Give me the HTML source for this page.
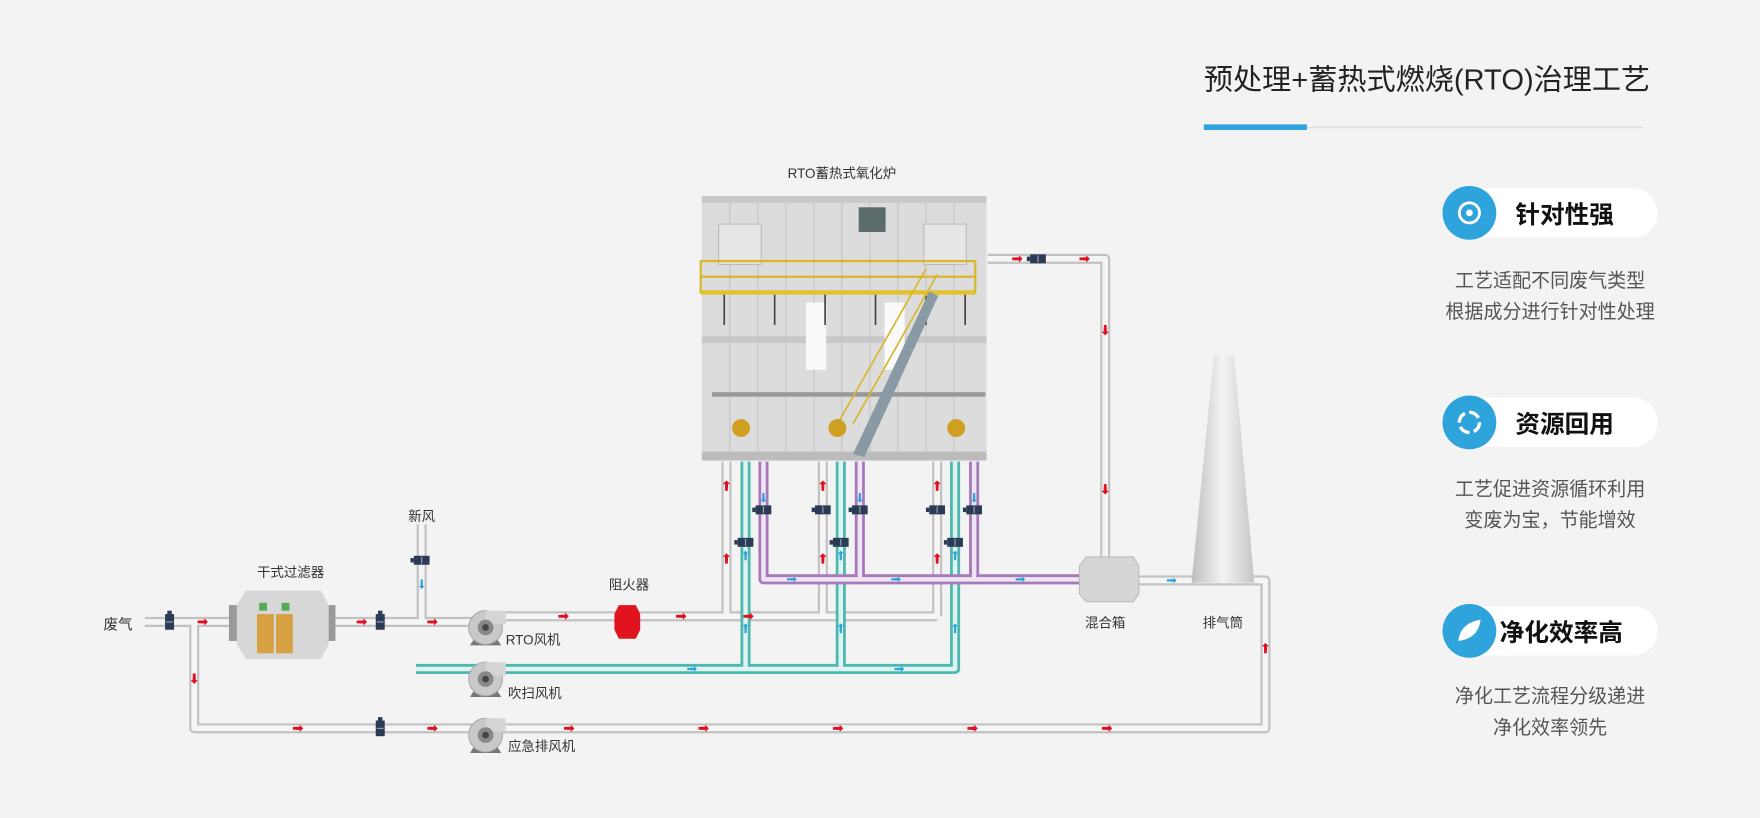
<!DOCTYPE html>
<html><head><meta charset="utf-8"><style>
html,body{margin:0;padding:0;background:#f3f3f3;}
svg{display:block;}
text{font-family:"Liberation Sans","Noto Sans CJK SC",sans-serif;}
</style></head><body>
<svg width="1760" height="818" viewBox="0 0 1568 730" xmlns="http://www.w3.org/2000/svg">
<defs>
<marker id="ar" viewBox="0 0 10 10" refX="5" refY="5" markerWidth="2.6" markerHeight="2.6" orient="auto"><path d="M0,3H5V0L10,5L5,10V7H0Z" fill="#e01020"/></marker>
<marker id="ab" viewBox="0 0 10 10" refX="5" refY="5" markerWidth="2.6" markerHeight="2.6" orient="auto"><path d="M0,3H5V0L10,5L5,10V7H0Z" fill="#2ea3dc"/></marker>
<g id="valve"><rect x="-4" y="-7" width="8" height="14" fill="#2b3a55"/><rect x="-2" y="-10" width="4" height="3" fill="#2b3a55"/><line x1="-3" y1="0" x2="3" y2="0" stroke="#9ab" stroke-width="1"/></g>
<g id="hvalve"><rect x="-7" y="-4" width="14" height="8" fill="#2b3a55"/><rect x="-10" y="-2" width="3" height="4" fill="#2b3a55"/><line x1="0" y1="-3" x2="0" y2="3" stroke="#9ab" stroke-width="1"/></g>
<g id="fan"><path d="M-10,10 L-14,16 H14 L10,10Z" fill="#777"/><circle r="15" fill="#c9c9c9" stroke="#aaa"/><rect x="0" y="-15" width="18" height="12" fill="#d5d5d5"/><circle r="7" fill="#888"/><circle r="3" fill="#444"/></g>
<linearGradient id="stk" x1="0" x2="1"><stop offset="0" stop-color="#bdbdbd"/><stop offset="0.5" stop-color="#f4f4f4"/><stop offset="1" stop-color="#c4c4c4"/></linearGradient>
</defs>
<rect width="1568" height="730" fill="#f3f3f3"/>

<text x="1073" y="80" font-size="26" fill="#222">预处理+蓄热式燃烧(RTO)治理工艺</text>
<rect x="1073" y="111" width="92" height="5" fill="#2ea3dc"/>
<rect x="1165" y="113" width="300" height="1.5" fill="#ddd"/>

<g>
<rect x="1292" y="168" width="186" height="44" rx="22" fill="#fff"/>
<circle cx="1310" cy="190" r="24" fill="#2ea3dc"/>
<circle cx="1310" cy="190" r="9" fill="none" stroke="#fff" stroke-width="2.5"/><circle cx="1310" cy="190" r="3" fill="#fff"/>
<text x="1395" y="199" font-size="22" font-weight="bold" text-anchor="middle" fill="#111">针对性强</text>
<text x="1382" y="256" font-size="17" text-anchor="middle" fill="#555">工艺适配不同废气类型</text>
<text x="1382" y="284" font-size="17" text-anchor="middle" fill="#555">根据成分进行针对性处理</text>

<rect x="1292" y="355" width="186" height="44" rx="22" fill="#fff"/>
<circle cx="1310" cy="377" r="24" fill="#2ea3dc"/>
<circle cx="1310" cy="377" r="9" fill="none" stroke="#fff" stroke-width="3" stroke-dasharray="10 4"/>
<text x="1395" y="386" font-size="22" font-weight="bold" text-anchor="middle" fill="#111">资源回用</text>
<text x="1382" y="442" font-size="17" text-anchor="middle" fill="#555">工艺促进资源循环利用</text>
<text x="1382" y="470" font-size="17" text-anchor="middle" fill="#555">变废为宝，节能增效</text>

<rect x="1292" y="541" width="186" height="44" rx="22" fill="#fff"/>
<circle cx="1310" cy="563" r="24" fill="#2ea3dc"/>
<path d="M1300,572 Q1302,556 1320,553 Q1318,570 1300,572Z" fill="#fff"/>
<text x="1392" y="572" font-size="22" font-weight="bold" text-anchor="middle" fill="#111">净化效率高</text>
<text x="1382" y="627" font-size="17" text-anchor="middle" fill="#555">净化工艺流程分级递进</text>
<text x="1382" y="655" font-size="17" text-anchor="middle" fill="#555">净化效率领先</text>
</g>

<g fill="none" stroke-linejoin="round">
 <g stroke="#c2c2c2" stroke-width="9">
  <path d="M128,555 H430"/><path d="M172,555 V650 H1128 V518 H1012"/>
  <path d="M375,468 V555"/><path d="M440,550 H835"/>
  <path d="M647,412 V550"/><path d="M733,412 V550"/><path d="M835,412 V550"/>
  <path d="M880,231 H985 V505"/>
 </g>
 <g stroke="#f5f5f5" stroke-width="5">
  <path d="M128,555 H430"/><path d="M172,555 V650 H1128 V518 H1012"/>
  <path d="M375,468 V555"/><path d="M440,550 H835"/>
  <path d="M647,412 V550"/><path d="M733,412 V550"/><path d="M835,412 V550"/>
  <path d="M880,231 H985 V505"/>
 </g>
 <g stroke="#4fb8ae" stroke-width="9">
  <path d="M664,412 V597"/><path d="M749,412 V597"/><path d="M851,412 V597 H370"/>
 </g>
 <g stroke="#dff3f1" stroke-width="4">
  <path d="M664,412 V597"/><path d="M749,412 V597"/><path d="M851,412 V597 H370"/>
 </g>
 <g stroke="#a679b8" stroke-width="9">
  <path d="M680,412 V517 H962"/><path d="M766,412 V517"/><path d="M868,412 V517"/>
 </g>
 <g stroke="#efe4f3" stroke-width="4">
  <path d="M680,412 V517 H962"/><path d="M766,412 V517"/><path d="M868,412 V517"/>
 </g>
</g>

<g stroke="#e01020" stroke-width="2.5" marker-end="url(#ar)">
 <line x1="175" y1="555" x2="181" y2="555"/><line x1="317" y1="555" x2="323" y2="555"/><line x1="380" y1="555" x2="386" y2="555"/>
 <line x1="172" y1="601" x2="172" y2="607"/><line x1="260" y1="650" x2="266" y2="650"/><line x1="380" y1="650" x2="386" y2="650"/>
 <line x1="497" y1="550" x2="503" y2="550"/><line x1="602" y1="550" x2="608" y2="550"/><line x1="662" y1="550" x2="668" y2="550"/>
 <line x1="502" y1="650" x2="508" y2="650"/><line x1="622" y1="650" x2="628" y2="650"/><line x1="742" y1="650" x2="748" y2="650"/><line x1="862" y1="650" x2="868" y2="650"/><line x1="982" y1="650" x2="988" y2="650"/>
 <line x1="1128" y1="583" x2="1128" y2="577"/>
 <line x1="647" y1="438" x2="647" y2="432"/><line x1="647" y1="503" x2="647" y2="497"/>
 <line x1="733" y1="438" x2="733" y2="432"/><line x1="733" y1="503" x2="733" y2="497"/>
 <line x1="835" y1="438" x2="835" y2="432"/><line x1="835" y1="503" x2="835" y2="497"/>
 <line x1="902" y1="231" x2="908" y2="231"/><line x1="962" y1="231" x2="968" y2="231"/>
 <line x1="985" y1="290" x2="985" y2="296"/><line x1="985" y1="432" x2="985" y2="438"/>
</g>
<g stroke="#2ea3dc" stroke-width="2" marker-end="url(#ab)">
 <line x1="701" y1="517" x2="707" y2="517"/><line x1="794" y1="517" x2="800" y2="517"/><line x1="905" y1="517" x2="911" y2="517"/>
 <line x1="1040" y1="518" x2="1046" y2="518"/><line x1="797" y1="597" x2="803" y2="597"/><line x1="612" y1="597" x2="618" y2="597"/>
 <line x1="375" y1="517" x2="375" y2="523"/>
 <line x1="664" y1="500" x2="664" y2="494"/><line x1="749" y1="500" x2="749" y2="494"/><line x1="851" y1="500" x2="851" y2="494"/>
 <line x1="664" y1="565" x2="664" y2="559"/><line x1="749" y1="565" x2="749" y2="559"/><line x1="851" y1="565" x2="851" y2="559"/>
 <line x1="680" y1="440" x2="680" y2="446"/><line x1="766" y1="440" x2="766" y2="446"/><line x1="868" y1="440" x2="868" y2="446"/>
 <line x1="1091" y1="345" x2="1091" y2="339"/><line x1="1091" y1="420" x2="1091" y2="414"/><line x1="1091" y1="485" x2="1091" y2="479"/>
</g>
<use href="#valve" x="150" y="555"/><use href="#valve" x="338" y="555"/><use href="#valve" x="338" y="650"/>
<use href="#hvalve" x="375" y="500"/><use href="#hvalve" x="925" y="231"/>
<use href="#hvalve" x="680" y="455"/><use href="#hvalve" x="766" y="455"/><use href="#hvalve" x="868" y="455"/>
<use href="#hvalve" x="733" y="455"/><use href="#hvalve" x="835" y="455"/>
<use href="#hvalve" x="664" y="484"/><use href="#hvalve" x="749" y="484"/><use href="#hvalve" x="851" y="484"/>

<rect x="203" y="540" width="8" height="32" fill="#999"/><rect x="290" y="540" width="8" height="32" fill="#999"/>
<path d="M218,527 H285 L292,540 V575 L285,588 H218 L210,575 V540Z" fill="#d7d7d7"/>
<rect x="230" y="538" width="7" height="7" fill="#5a5"/><rect x="250" y="538" width="7" height="7" fill="#5a5"/>
<rect x="228" y="548" width="15" height="35" fill="#d7a043"/><rect x="245" y="548" width="15" height="35" fill="#d7a043"/>
<text x="258" y="515" font-size="12" text-anchor="middle" fill="#333">干式过滤器</text>
<text x="104" y="562" font-size="13" text-anchor="middle" fill="#333">废气</text>
<text x="375" y="465" font-size="12" text-anchor="middle" fill="#333">新风</text>

<use href="#fan" x="432" y="560"/><use href="#fan" x="432" y="606"/><use href="#fan" x="432" y="656"/>
<text x="450" y="575" font-size="12" fill="#333">RTO风机</text>
<text x="452" y="623" font-size="12" fill="#333">吹扫风机</text>
<text x="452" y="670" font-size="12" fill="#333">应急排风机</text>

<path d="M551,540 H566 L570,548 V562 L566,570 H551 L547,562 V548Z" fill="#e0141e"/>
<text x="560" y="526" font-size="12" text-anchor="middle" fill="#333">阻火器</text>

<path d="M968,497 H1010 L1015,505 V530 L1010,537 H968 L962,530 V505Z" fill="#d6d6d6" stroke="#bbb"/>
<text x="985" y="560" font-size="12" text-anchor="middle" fill="#333">混合箱</text>
<path d="M1082,317 H1100 L1118,520 H1062Z" fill="url(#stk)"/>
<text x="1090" y="560" font-size="12" text-anchor="middle" fill="#333">排气筒</text>

<text x="750" y="159" font-size="12" text-anchor="middle" fill="#333">RTO蓄热式氧化炉</text>
<rect x="625" y="175" width="254" height="234" fill="#dcdcdc"/>
<rect x="625" y="175" width="254" height="6" fill="#c8c8c8"/>
<rect x="625" y="300" width="254" height="6" fill="#c8c8c8"/>
<g stroke="#c4c4c4" stroke-width="1">
 <line x1="650" y1="181" x2="650" y2="405"/><line x1="675" y1="181" x2="675" y2="405"/><line x1="700" y1="181" x2="700" y2="405"/>
 <line x1="725" y1="181" x2="725" y2="405"/><line x1="750" y1="181" x2="750" y2="405"/><line x1="775" y1="181" x2="775" y2="405"/>
 <line x1="800" y1="181" x2="800" y2="405"/><line x1="825" y1="181" x2="825" y2="405"/><line x1="850" y1="181" x2="850" y2="405"/>
</g>
<rect x="718" y="270" width="18" height="60" fill="#fafafa"/><rect x="788" y="270" width="18" height="60" fill="#fafafa"/>
<rect x="640" y="200" width="38" height="36" fill="#e6e6e6" stroke="#bbb"/><rect x="823" y="200" width="38" height="36" fill="#e6e6e6" stroke="#bbb"/>
<rect x="765" y="185" width="24" height="22" fill="#5b6a6a"/>
<rect x="625" y="403" width="254" height="8" fill="#bcbcbc"/>
<rect x="634" y="350" width="244" height="4" fill="#999"/>
<g stroke="#d8b72b" stroke-width="2" fill="none">
 <rect x="624" y="233" width="245" height="28"/><line x1="624" y1="247" x2="869" y2="247"/>
</g>
<rect x="624" y="259" width="245" height="4" fill="#e2c22e"/>
<g stroke="#444" stroke-width="1.5"><line x1="645" y1="263" x2="645" y2="290"/><line x1="690" y1="263" x2="690" y2="290"/><line x1="735" y1="263" x2="735" y2="290"/><line x1="780" y1="263" x2="780" y2="290"/><line x1="825" y1="263" x2="825" y2="290"/><line x1="860" y1="263" x2="860" y2="290"/></g>
<path d="M760,405 L828,260 L836,264 L770,408Z" fill="#8a9aa4"/>
<g stroke="#d8b72b" stroke-width="1.5"><line x1="748" y1="375" x2="825" y2="240"/><line x1="760" y1="378" x2="835" y2="245"/></g>
<g fill="#cf9f22"><circle cx="660" cy="382" r="8"/><circle cx="746" cy="382" r="8"/><circle cx="852" cy="382" r="8"/></g>
</svg>
</body></html>
